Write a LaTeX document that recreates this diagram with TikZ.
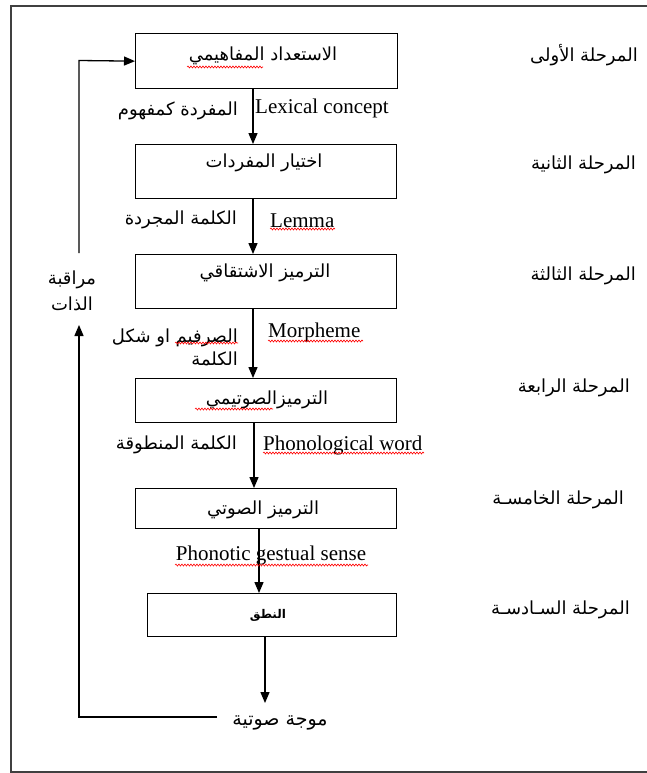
\documentclass[tikz,border=0pt]{standalone}
\usepackage{fontspec}
\setmainfont{Liberation Serif}
\newfontfamily\arabicfont[Script=Arabic]{DejaVu Sans}
\TeXXeTstate=1
\usetikzlibrary{arrows.meta,decorations.pathmorphing}
\newcommand{\artxt}[1]{{\arabicfont\beginR #1\endR}}
\begin{document}
\begin{tikzpicture}[x=1pt,y=-1pt,
  stagebox/.style={draw, line width=1.3pt, inner sep=0pt, anchor=north west, minimum height=55pt},
  arr/.style={line width=1.3pt, -{Triangle[length=11pt,width=9pt]}},
  artext/.style={inner sep=0pt, yshift=-2.5pt, font=\fontsize{18}{21}\selectfont},
  entext/.style={inner sep=0pt, font=\fontsize{21}{24}\selectfont},
  spell/.style={red, line width=0.6pt, decorate, decoration={snake, amplitude=1pt, segment length=3pt}}]
\useasboundingbox (0,0) rectangle (646,773);
% outer frame (right edge outside the picture)
\draw[line width=1.3pt, black!75] (650,6) -- (11,6) -- (11,772) -- (650,772);

% boxes
\node[stagebox, minimum width=262pt, minimum height=55pt] (b1) at (135,33) {};
\node[stagebox, minimum width=261pt, minimum height=54pt] (b2) at (135,144) {};
\node[stagebox, minimum width=261pt, minimum height=54pt] (b3) at (135,254) {};
\node[stagebox, minimum width=261pt, minimum height=44pt] (b4) at (135,378) {};
\node[stagebox, minimum width=261pt, minimum height=40pt] (b5) at (135,488) {};
\node[stagebox, minimum width=249pt, minimum height=43pt] (b6) at (147,593) {};

% box texts
\node[artext] (t1) at (263,53) {\artxt{الاستعداد المفاهيمي}};
\node[artext] (t2) at (264,160) {\artxt{اختيار المفردات}};
\node[artext] (t3) at (265,270) {\artxt{الترميز الاشتقاقي}};
\node[artext] (t4) at (267,397) {\artxt{الترميزالصوتيمي}};
\node[artext] (t5) at (263,507) {\artxt{الترميز الصوتي}};
\node[inner sep=0pt, yshift=-2pt, font=\fontsize{12}{14}\selectfont\bfseries] (t6) at (268,613) {\artxt{النطق}};

% stage labels
\node[artext, anchor=east] (s1) at (638,53) {\artxt{المرحلة الأولى}};
\node[artext, anchor=east] (s2) at (636,162) {\artxt{المرحلة الثانية}};
\node[artext, anchor=east] (s3) at (636,273) {\artxt{المرحلة الثالثة}};
\node[artext, anchor=east] (s4) at (630,385) {\artxt{المرحلة الرابعة}};
\node[artext, anchor=east] (s5) at (624,497) {\artxt{المرحلة الخامسـة}};
\node[artext, anchor=east] (s6) at (630,607) {\artxt{المرحلة السـادسـة}};

% arrow labels
\node[artext, anchor=east] (l1a) at (238,108) {\artxt{المفردة كمفهوم}};
\node[entext, anchor=west] (l1e) at (255,108) {Lexical concept};
\node[artext, anchor=east] (l2a) at (237,217) {\artxt{الكلمة المجردة}};
\node[entext, anchor=west] (l2e) at (270,221) {Lemma};
\node[artext, anchor=east, align=right] (l3a) at (238,345) {\artxt{الصرفيم او شكل}\\[2pt]\artxt{الكلمة}};
\node[entext, anchor=west] (l3e) at (268,332) {Morpheme};
\node[artext, anchor=east] (l4a) at (237,442) {\artxt{الكلمة المنطوقة}};
\node[entext, anchor=west] (l4e) at (263,445) {Phonological word};
\node[entext] (l5e) at (271,555) {Phonotic gestual sense};
\node[artext, font=\fontsize{19}{22}\selectfont] (wave) at (280,720) {\artxt{موجة صوتية}};
\node[artext, align=center] (mon) at (72,288) {\artxt{مراقبة}\\[5pt]\artxt{الذات}};

% vertical arrow positions
\coordinate (x1) at (253,0);
\coordinate (x4) at (254,0);
\coordinate (x5) at (259,0);
\coordinate (x6) at (265,0);
\coordinate (tip6) at (265,703);

\draw[arr] (x1 |- b1.south) -- (x1 |- b2.north);
\draw[arr] (x1 |- b2.south) -- (x1 |- b3.north);
\draw[arr] (x1 |- b3.south) -- (x1 |- b4.north);
\draw[arr] (x4 |- b4.south) -- (x4 |- b5.north);
\draw[arr] (x5 |- b5.south) -- (x5 |- b6.north);
\draw[arr] (x6 |- b6.south) -- (tip6);

% feedback loop
\coordinate (fbA) at (217,717);
\coordinate (fbB) at (79,717);
\coordinate (fbC) at (79,325);
\coordinate (fbD) at (79,253);
\coordinate (fbE) at (79,60.5);
\draw[arr] (fbA) -- (fbB) -- (fbC);
\draw[arr] (fbD) -- (fbE) -- (b1.west);

% spell-check squiggles
\draw[spell] (187,67) -- (263,67);
\draw[spell] (270,229) -- (335,229);
\draw[spell] (268,341) -- (363,341);
\draw[spell] (175,343) -- (238,343);
\draw[spell] (195,409) -- (273,409);
\draw[spell] (263,453) -- (424,453);
\draw[spell] (175,565) -- (368,565);
\end{tikzpicture}
\end{document}
